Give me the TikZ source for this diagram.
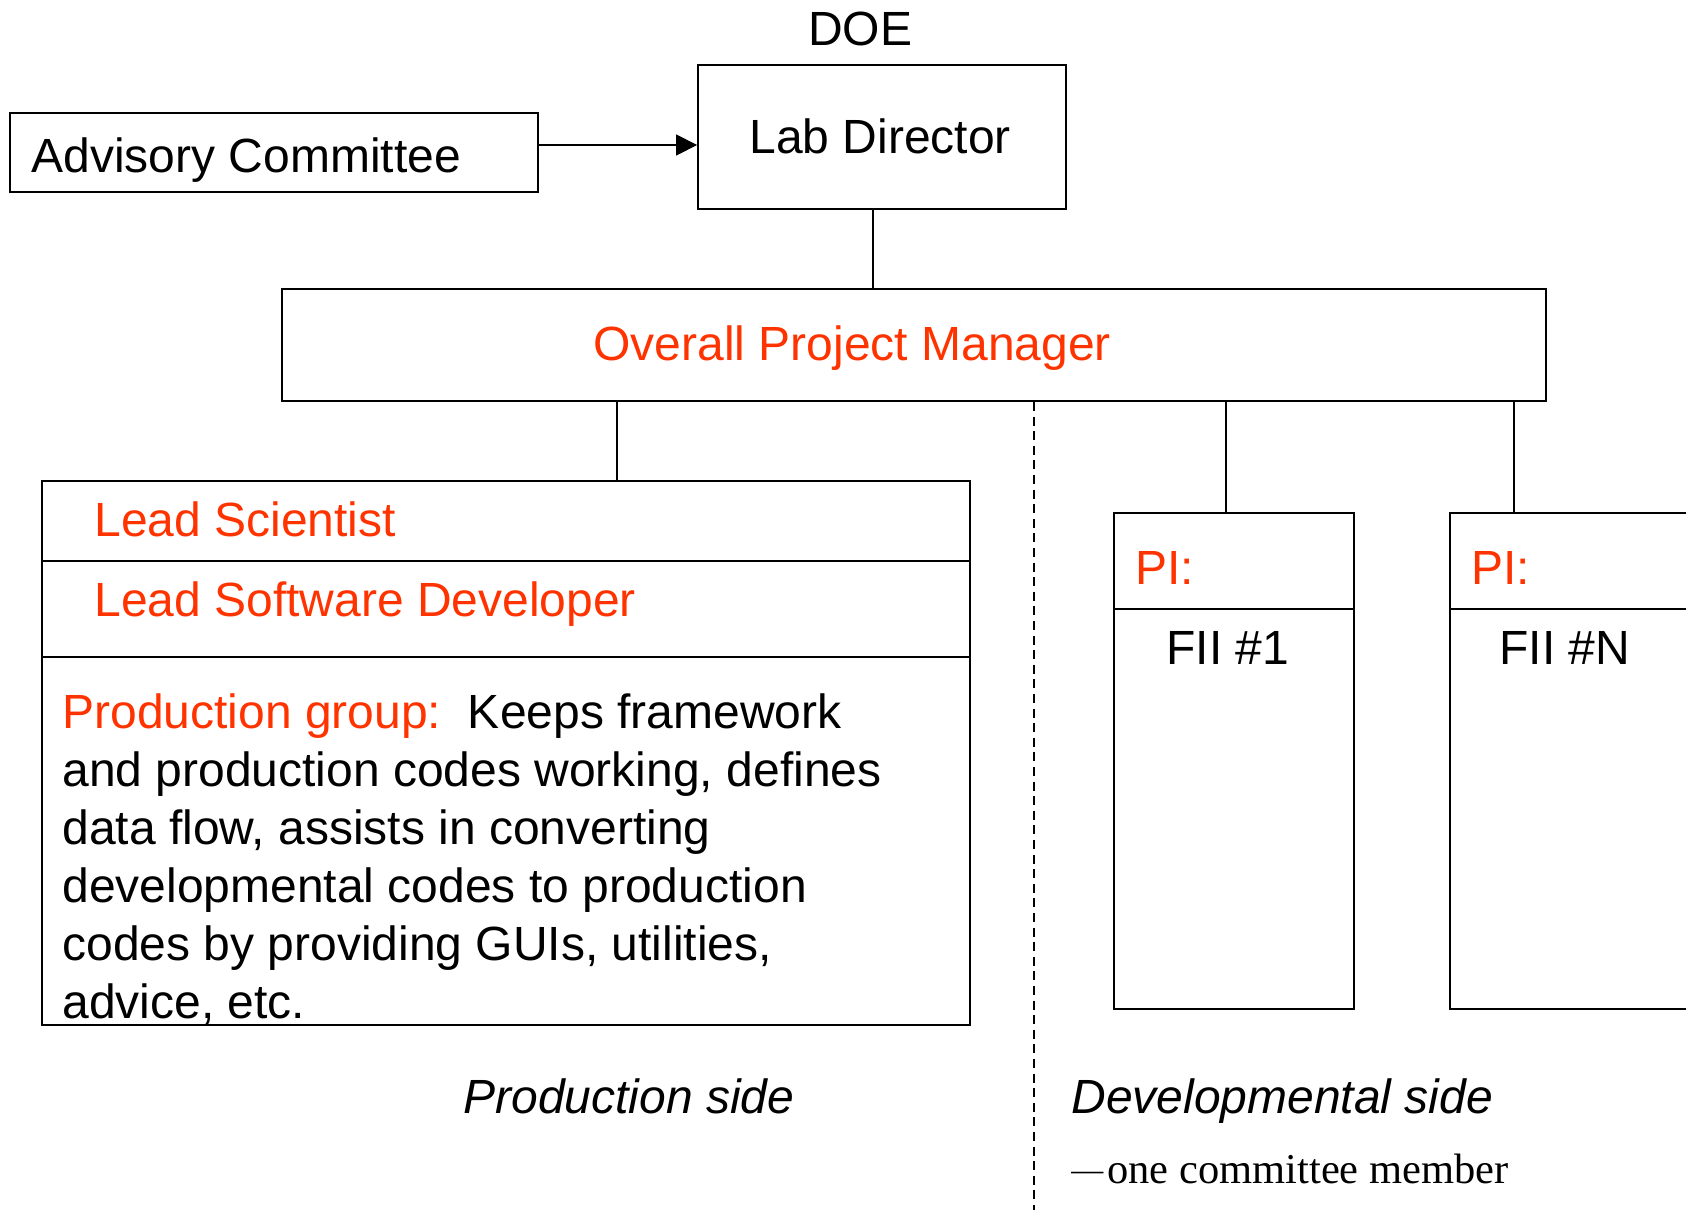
\documentclass[tikz,border=0pt]{standalone}
\usepackage{fontspec}
\setmainfont{Liberation Sans}
\newfontfamily\notefont{Liberation Serif}
\usetikzlibrary{arrows.meta,calc}
\definecolor{PptRed}{HTML}{FF3300}
\tikzset{
  orgbox/.style={rectangle,draw=black,line width=0.9pt,inner sep=0pt},
  lbl/.style={inner sep=0pt,font=\fontsize{24}{29}\selectfont},
  redlbl/.style={lbl,text=PptRed},
  sidelbl/.style={lbl,font=\fontsize{24}{29}\selectfont\itshape},
  link/.style={line width=0.6pt},
  sideline/.style={line width=0.6pt,dash pattern=on 4.5pt off 2.8pt},
}
\begin{document}
\begin{tikzpicture}[x=0.5pt,y=-0.5pt]
  \useasboundingbox (0,0) rectangle (1686,1210);

  % top level
  \node[lbl,anchor=base] (doe) at (860,45) {DOE};
  \node[orgbox,minimum width=264pt,minimum height=39.5pt] (adv) at (274,152.5) {};
  \node[lbl,anchor=base west] (advtxt) at (31,172) {Advisory Committee};
  \node[orgbox,minimum width=184pt,minimum height=72pt] (ld) at (882,137) {};
  \node[lbl,anchor=base west] (ldtxt) at (749,153) {Lab Director};
  \node[orgbox,minimum width=632pt,minimum height=56pt] (opm) at (914,345) {};
  \node[redlbl,anchor=base west] (opmtxt) at (593,360) {Overall Project Manager};

  % production side
  \node[orgbox,minimum width=464pt,minimum height=40pt] (leadsci) at (506,521) {};
  \node[orgbox,minimum width=464pt,minimum height=48pt] (leaddev) at (506,609) {};
  \node[orgbox,minimum width=464pt,minimum height=184pt] (prod) at (506,841) {};
  \node[redlbl,anchor=base west] (leadscitxt) at (94,536) {Lead Scientist};
  \node[redlbl,anchor=base west] (leaddevtxt) at (94,616) {Lead Software Developer};
  \node[lbl,anchor=north west,align=left] (prodtxt) at (62,693)
    {\textcolor{PptRed}{Production group:}~~Keeps framework\\
     and production codes working, defines\\
     data flow, assists in converting\\
     developmental codes to production\\
     codes by providing GUIs, utilities,\\
     advice, etc.};

  % developmental side
  \node[orgbox,minimum width=120pt,minimum height=48pt] (pione) at (1234,561) {};
  \node[orgbox,minimum width=120pt,minimum height=200pt] (fiione) at (1234,809) {};
  \node[orgbox,minimum width=120pt,minimum height=48pt] (pin) at (1570,561) {};
  \node[orgbox,minimum width=120pt,minimum height=200pt] (fiin) at (1570,809) {};
  \node[redlbl,anchor=base west] (pionetxt) at (1135,584) {PI:};
  \node[redlbl,anchor=base west] (pintxt) at (1471,584) {PI:};
  \node[lbl,anchor=base west] (fiionetxt) at (1166,664) {FII \#1};
  \node[lbl,anchor=base west] (fiintxt) at (1499,664) {FII \#N};

  \node[sidelbl,anchor=base west] (prodside) at (463,1113) {Production side};
  \node[sidelbl,anchor=base west] (devside) at (1071,1113) {Developmental side};
  \node[inner sep=0pt,anchor=base west,font=\fontsize{21.25}{25}\notefont] (member)
    at (1071,1183) {\raisebox{1.5pt}{\fontsize{16}{16}\selectfont —}\hspace{2pt}one committee member};

  % connectors
  \draw[link,-{Triangle[length=10.5pt,width=10.5pt]}]
    ([yshift=3.75pt]adv.east) -- ([yshift=3.75pt]adv.east -| ld.west);
  \draw[link] ([xshift=-4.5pt]ld.south) -- ([xshift=-4.5pt]ld.south |- opm.north);
  \draw[link] ([xshift=55.5pt]leadsci.north) -- ([xshift=55.5pt]leadsci.north |- opm.south);
  \draw[link] ([xshift=-4pt]pione.north) -- ([xshift=-4pt]pione.north |- opm.south);
  \draw[link] ([xshift=-28pt]pin.north) -- ([xshift=-28pt]pin.north |- opm.south);
  \coordinate (sidefoot) at (1034,1210);
  \draw[sideline] (opm.south -| sidefoot) -- (sidefoot);
\end{tikzpicture}
\end{document}
